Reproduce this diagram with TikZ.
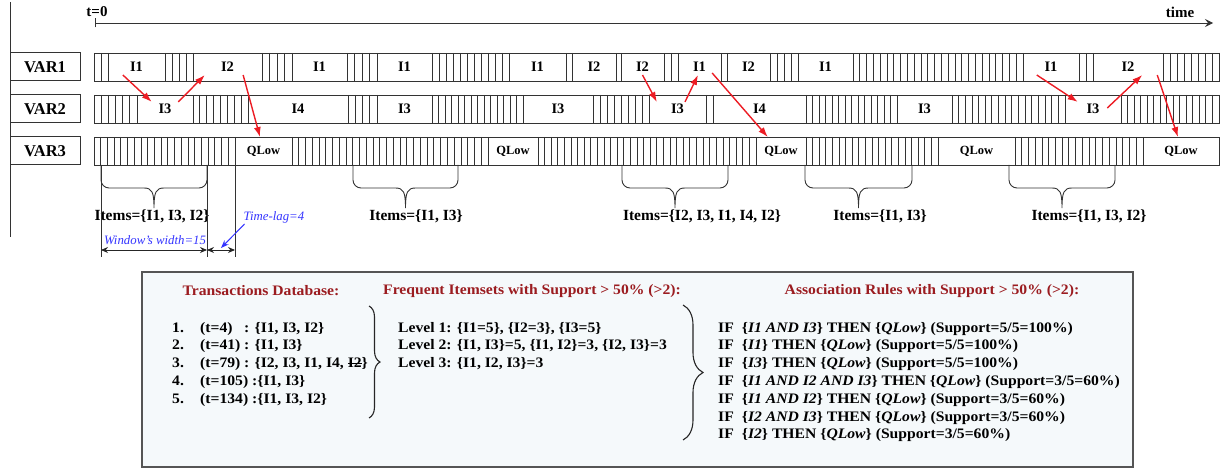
\documentclass[tikz,border=0pt]{standalone}
\usepackage{fontspec}
\setmainfont{Liberation Serif}
\newfontfamily\boxfont[FakeStretch=1.08]{Liberation Serif}
\usetikzlibrary{arrows.meta,decorations.pathreplacing}

\definecolor{linkred}{RGB}{236,28,36}
\definecolor{lagblue}{RGB}{51,51,255}
\definecolor{headred}{RGB}{155,28,32}
\definecolor{boxfill}{RGB}{245,249,251}
\definecolor{boxline}{RGB}{85,85,85}

\newcommand{\fs}[1]{\fontsize{#1}{#1}\selectfont\bfseries}
\newcommand{\strikeout}[1]{\setbox0\hbox{#1}\rlap{\rule[0.28em]{\wd0}{0.7pt}}#1}

% hatched stretch of a row: top y, from x, to x
\newcommand{\hatch}[3]{%
  \pgfmathtruncatemacro{\hn}{max(1,round((#3-#2)/6.7))}%
  \foreach \k in {0,...,\hn}
    {\draw[rowline] ({#2+\k*(#3-#2)/\hn},#1) -- ++(0,28);}%
}

% curly brace under VAR3 from x to x
\newcommand{\itembrace}[2]{%
  \draw[rowline] (#1,165) -- (#1,180) to[out=-90,in=180] (#1+8,188)
    -- ({(#1+#2)/2-10},188)
    .. controls ({(#1+#2)/2-2},188) and ({(#1+#2)/2},192) .. ({(#1+#2)/2},208)
    .. controls ({(#1+#2)/2},192) and ({(#1+#2)/2+2},188) .. ({(#1+#2)/2+10},188)
    -- (#2-8,188) to[out=0,in=-90] (#2,180) -- (#2,165);%
}

\begin{document}
\begin{tikzpicture}[x=1pt,y=-1pt,
  rowline/.style={draw=black!80, line width=0.9pt},
  varbox/.style={draw=black!80, line width=1pt, minimum width=70pt,
    minimum height=28pt, font=\fs{16.5}},
  axislbl/.style={font=\fs{15}, inner sep=1pt},
  itemlbl/.style={font=\fs{14.5}, inner sep=1pt},
  qlow/.style={font=\fs{12.5}, inner sep=1pt},
  items/.style={font=\fs{15.5}, inner sep=1pt},
  link/.style={draw=linkred, line width=1.4pt, -{Latex[length=10pt,width=7pt]}},
  dimline/.style={draw=black!85, line width=0.9pt,
    {Stealth[length=7pt,width=6pt]}-{Stealth[length=7pt,width=6pt]}},
  lagtext/.style={text=lagblue, font=\fontsize{12.8}{13}\selectfont\itshape, inner sep=1pt},
  lagarrow/.style={draw=lagblue, line width=1pt, -{Stealth[length=8pt,width=6pt]}},
  dbbox/.style={draw=boxline, fill=boxfill, line width=1.2pt},
  head/.style={text=headred, font=\boxfont\fs{14.5}, inner sep=0pt},
  dbline/.style={font=\boxfont\fs{14.5}, inner sep=0pt, anchor=base west},
  bigbrace/.style={draw=black!85, line width=1.1pt, decorate}
]
\useasboundingbox (0,0) rectangle (1224,468);

% time axis
\draw[rowline] (10,2) -- (10,237);
\coordinate (t0) at (95,23);
\coordinate (tend) at (1213,23);
\draw[rowline, {Bar[width=9pt]}-{Stealth[length=8pt,width=8pt,inset=3pt]}] (t0) -- (tend);
\node[axislbl] (tzero) at (97,12) {t=0};
\node[axislbl] (ttime) at (1180,12) {time};

% variable rows
\foreach \v/\y in {1/53,2/95,3/137}{
  \node[varbox] (var\v) at (45,\y+14) {VAR\v};
  \draw[rowline] (94,\y) rectangle (1219,\y+28);
}
\foreach \a/\b in {94/108,165/193,262/292,347/377,432/509,566/572,616/621,
    664/678,721/727,770/798,853/1023,1079/1093,1163/1219}
  {\hatch{53}{\a}{\b}}
\foreach \a/\b in {94/137,193/248,348/377,432/523,593/649,706/713,806/897,
    952/1065,1121/1219}
  {\hatch{95}{\a}{\b}}
\foreach \a/\b in {94/235,292/488,538/756,806/938,1015/1143}
  {\hatch{137}{\a}{\b}}

% items in the windows
\foreach \x/\t [count=\i] in {136.5/I1,227.5/I2,319.5/I1,404.5/I1,537.5/I1,594/I2,
    642.5/I2,699.5/I1,748.5/I2,825.5/I1,1051/I1,1128/I2}
  \node[itemlbl] (a\i) at (\x,67) {\t};
\foreach \x/\t [count=\i] in {165/I3,298/I4,404.5/I3,558/I3,677.5/I3,759.5/I4,
    924.5/I3,1093/I3}
  \node[itemlbl] (b\i) at (\x,109) {\t};
\foreach \x [count=\i] in {263.5,513,781,976.5,1181}
  \node[qlow] (c\i) at (\x,151) {QLow};

% sequences leading to QLow
\draw[link] ([xshift=-6pt,yshift=-2pt]a1.south west) -- ([xshift=-5.6pt,yshift=1pt]b1.north west);
\draw[link] ([xshift=5.6pt,yshift=1pt]b1.north east) -- ([xshift=-15pt,yshift=-2pt]a2.south west);
\draw[link] ([xshift=8pt,yshift=-2pt]a2.south east) -- ([xshift=-3.5pt,yshift=7.6pt]c1.north);
\draw[link] ([yshift=-2pt]a7.south) -- ([xshift=-13pt,yshift=1pt]b5.north west);
\draw[link] ([xshift=7.5pt,yshift=1pt]b5.north) -- ([xshift=-1.5pt,yshift=-2pt]a8.south);
\draw[link] ([xshift=5pt]a8.south east) -- ([xshift=4.7pt,yshift=7.6pt]c3.north west);
\draw[link] ([xshift=-6.6pt,yshift=-2pt]a11.south west) -- ([xshift=-7.6pt,yshift=1pt]b8.north west);
\draw[link] ([xshift=6.6pt,yshift=1pt]b8.east) -- ([xshift=6.6pt,yshift=-2pt]a12.south east);
\draw[link] ([xshift=21.6pt,yshift=-2pt]a12.south east) -- ([xshift=-3pt,yshift=7.6pt]c5.north);

% windows
\foreach \a/\b in {101/207,353/458,622/728,805/912,1009/1115}
  {\itembrace{\a}{\b}}
\node[items] (set1) at (152,216) {Items=\{I1, I3, I2\}};
\node[items] (set2) at (416,216) {Items=\{I1, I3\}};
\node[items] (set3) at (702,216) {Items=\{I2, I3, I1, I4, I2\}};
\node[items] (set4) at (880,216) {Items=\{I1, I3\}};
\node[items] (set5) at (1089,216) {Items=\{I1, I3, I2\}};

% window width and time lag
\foreach \x in {101,207,235}
  \draw[rowline] (\x,165) -- (\x,257);
\coordinate (w0) at (101,250);
\coordinate (w1) at (207,250);
\coordinate (w2) at (235,250);
\draw[dimline] (w0) -- (w1);
\draw[dimline] (w1) -- (w2);
\node[lagtext] (width) at (155,240) {Window's width=15};
\node[lagtext] (lag) at (274,217) {Time-lag=4};
\coordinate (lagmid) at (221,248);
\draw[lagarrow] ([xshift=2pt]lag.south west) -- (lagmid);

% mining results
\draw[dbbox] (142,272) rectangle (1133,467);
\node[head] (hdb) at (261,291) {Transactions Database:};
\node[head, anchor=west] (hfi) at (383,291) {Frequent Itemsets with Support > 50\% (>2):};
\node[head] (har) at (932,291) {Association Rules with Support > 50\% (>2):};

\node[dbline] (t1) at (172,332) {\makebox[28pt][l]{1.}\makebox[44pt][l]{(t=4)}: \{I1, I3, I2\}};
\node[dbline] (t2) at (172,349.8) {\makebox[28pt][l]{2.}\makebox[44pt][l]{(t=41)}: \{I1, I3\}};
\node[dbline] (t3) at (172,367.6) {\makebox[28pt][l]{3.}\makebox[44pt][l]{(t=79)}: \{I2, I3, I1, I4, \strikeout{I2}\}};
\node[dbline] (t4) at (172,385.4) {\makebox[28pt][l]{4.}(t=105)\ :\{I1, I3\}};
\node[dbline] (t5) at (172,403.2) {\makebox[28pt][l]{5.}(t=134)\ :\{I1, I3, I2\}};

\draw[bigbrace, decoration={brace, amplitude=11pt}] (369,306) -- (369,418);

\node[dbline] (l1) at (398,332) {Level 1: \{I1=5\}, \{I2=3\}, \{I3=5\}};
\node[dbline] (l2) at (398,349.8) {Level 2: \{I1, I3\}=5, \{I1, I2\}=3, \{I2, I3\}=3};
\node[dbline] (l3) at (398,367.6) {Level 3: \{I1, I2, I3\}=3};

\draw[bigbrace, decoration={brace, amplitude=20pt}] (683,305) -- (683,440);

\node[dbline] (r1) at (718,332) {IF\hspace{8pt}\{\textit{I1 AND I3}\} THEN \{\textit{QLow}\} (Support=5/5=100\%)};
\node[dbline] (r2) at (718,349.8) {IF\hspace{8pt}\{\textit{I1}\} THEN \{\textit{QLow}\} (Support=5/5=100\%)};
\node[dbline] (r3) at (718,367.6) {IF\hspace{8pt}\{\textit{I3}\} THEN \{\textit{QLow}\} (Support=5/5=100\%)};
\node[dbline] (r4) at (718,385.4) {IF\hspace{8pt}\{\textit{I1 AND I2 AND I3}\} THEN \{\textit{QLow}\} (Support=3/5=60\%)};
\node[dbline] (r5) at (718,403.2) {IF\hspace{8pt}\{\textit{I1 AND I2}\} THEN \{\textit{QLow}\} (Support=3/5=60\%)};
\node[dbline] (r6) at (718,421) {IF\hspace{8pt}\{\textit{I2 AND I3}\} THEN \{\textit{QLow}\} (Support=3/5=60\%)};
\node[dbline] (r7) at (718,438.8) {IF\hspace{8pt}\{\textit{I2}\} THEN \{\textit{QLow}\} (Support=3/5=60\%)};
\end{tikzpicture}
\end{document}
